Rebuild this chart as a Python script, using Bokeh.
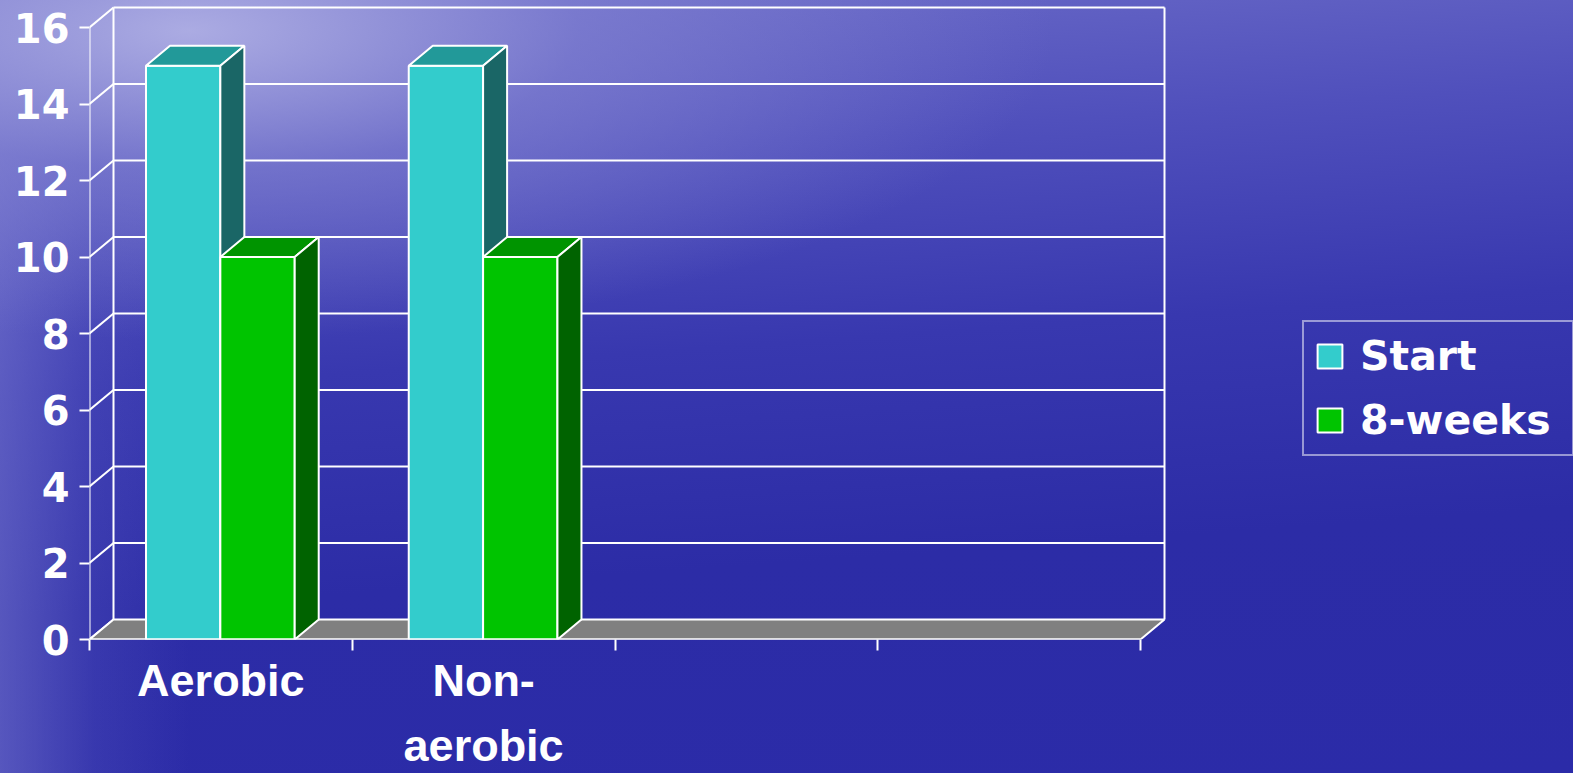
import numpy as np
from bokeh.plotting import figure
from bokeh.models import Range1d, FixedTicker, Legend, LegendItem, ColumnDataSource
from bokeh.embed import file_html
from bokeh.resources import INLINE

# ---------------- data ----------------
categories = ["Aerobic", "Non-\naerobic", "", ""]
series_names = ["Start", "8-weeks"]
start_values = [15, 15]
week8_values = [10, 10]
y_ticks = [0, 2, 4, 6, 8, 10, 12, 14, 16]

# ---------------- style ----------------
FRONT = ["#33CCCC", "#00C400"]
TOP = ["#229999", "#009400"]
SIDE = ["#1A6666", "#006300"]
FLOOR = "#808080"
WHITE = "#FFFFFF"

W, H = 1573, 773
LEFT, BOTTOM = 89, 134
PX_X = 262.75          # px per category
PX_Y = 38.25           # px per unit
DX = 24 / PX_X         # depth offset in x units
DY = 20 / PX_Y         # depth offset in y units
BAR_W = 0.283
BAR_START = 0.215
N_SLOTS = len(categories)
Y_MAX = y_ticks[-1]

p = figure(width=W, height=H, output_backend="svg", toolbar_location=None,
           x_range=Range1d(0, (W - LEFT) / PX_X),
           y_range=Range1d(0, (H - BOTTOM) / PX_Y),
           min_border_left=LEFT, min_border_bottom=BOTTOM,
           min_border_top=0, min_border_right=0,
           background_fill_alpha=0, border_fill_alpha=0,
           outline_line_color=None)
p.styles = {
    "background": (
        "radial-gradient(ellipse 55% 40% at 12% 4%, rgba(175,175,228,0.95) 0%, "
        "rgba(135,135,212,0.6) 45%, rgba(0,0,0,0) 100%), "
        "linear-gradient(90deg, rgba(115,115,205,0.6) 0%, rgba(85,85,190,0.3) 6%, rgba(0,0,0,0) 12%), "
        "linear-gradient(176deg, #6c6cc8 0%, #5050bc 22%, #3838af 45%, #2c2ca6 70%, #2b2ba8 100%)"
    )
}
p.grid.visible = False

# ---------------- 3-D walls ----------------
grid_vals = [v for v in y_ticks if v > 0]
# back wall gridlines
p.segment(x0=[DX] * len(grid_vals), y0=[v + DY for v in grid_vals],
          x1=[N_SLOTS + DX] * len(grid_vals), y1=[v + DY for v in grid_vals],
          line_color=WHITE, line_width=2)
# side wall diagonals
p.segment(x0=[0] * len(y_ticks), y0=y_ticks,
          x1=[DX] * len(y_ticks), y1=[v + DY for v in y_ticks],
          line_color=WHITE, line_width=2)
# wall verticals (front axis, back-left, back-right)
p.segment(x0=[0, DX, N_SLOTS + DX], y0=[0, DY, DY],
          x1=[0, DX, N_SLOTS + DX], y1=[Y_MAX, Y_MAX + DY, Y_MAX + DY],
          line_color=WHITE, line_width=2)
# floor
p.patch(x=[0, N_SLOTS, N_SLOTS + DX, DX], y=[0, 0, DY, DY],
        fill_color=FLOOR, line_color=WHITE, line_width=2)

# ---------------- bars ----------------
legend_items = []
for s, vals in enumerate([start_values, week8_values]):
    lefts = [i + BAR_START + s * BAR_W for i in range(len(vals))]
    rights = [l + BAR_W for l in lefts]
    centers = [l + BAR_W / 2 for l in lefts]
    src = ColumnDataSource(dict(x=centers, top=vals))
    r = p.vbar(x="x", top="top", bottom=0, width=BAR_W, source=src,
               fill_color=FRONT[s], line_color=WHITE, line_width=2)
    legend_items.append(LegendItem(label=series_names[s], renderers=[r]))
    p.patches(xs=[[l, rr, rr + DX, l + DX] for l, rr in zip(lefts, rights)],
              ys=[[v, v, v + DY, v + DY] for v in vals],
              fill_color=TOP[s], line_color=WHITE, line_width=2)
    p.patches(xs=[[rr, rr + DX, rr + DX, rr] for rr in rights],
              ys=[[0, DY, v + DY, v] for v in vals],
              fill_color=SIDE[s], line_color=WHITE, line_width=2)

# front x axis line
p.segment(x0=[0], y0=[0], x1=[N_SLOTS], y1=[0], line_color=WHITE, line_width=2)

# ---------------- axes ----------------
xa = p.xaxis[0]
xa.ticker = FixedTicker(ticks=[i + 0.5 for i in range(N_SLOTS)],
                        minor_ticks=list(range(N_SLOTS + 1)))
xa.major_label_overrides = {i + 0.5: c for i, c in enumerate(categories)}
xa.axis_line_color = None
xa.major_tick_line_color = None
xa.major_tick_out = 0
xa.major_tick_in = 0
xa.minor_tick_line_color = WHITE
xa.minor_tick_line_width = 2
xa.minor_tick_out = 11
xa.minor_tick_in = 0
xa.major_label_standoff = 4
xa.major_label_text_font = "Liberation Sans"
xa.major_label_text_font_style = "bold"
xa.major_label_text_font_size = "45px"
xa.major_label_text_color = WHITE
xa.major_label_text_line_height = 1.28

ya = p.yaxis[0]
ya.ticker = FixedTicker(ticks=y_ticks, minor_ticks=[])
ya.axis_line_color = None
ya.major_tick_line_color = WHITE
ya.major_tick_line_width = 2
ya.major_tick_out = 10
ya.major_tick_in = 0
ya.minor_tick_line_color = None
ya.major_label_standoff = 10
ya.major_label_text_font = "DejaVu Sans"
ya.major_label_text_font_style = "bold"
ya.major_label_text_font_size = "40px"
ya.major_label_text_color = WHITE

# ---------------- legend ----------------
legend = Legend(items=legend_items, location=(1302 - LEFT, (H - BOTTOM) - 456),
                orientation="vertical",
                label_text_font="DejaVu Sans", label_text_font_style="bold",
                label_text_font_size="41px", label_text_color=WHITE,
                glyph_width=31, glyph_height=30, label_standoff=15,
                label_width=202,
                spacing=16, padding=10, margin=0,
                border_line_color=WHITE, border_line_width=2,
                background_fill_alpha=0)
p.add_layout(legend)

open("out.html", "w").write(file_html(p, INLINE))
